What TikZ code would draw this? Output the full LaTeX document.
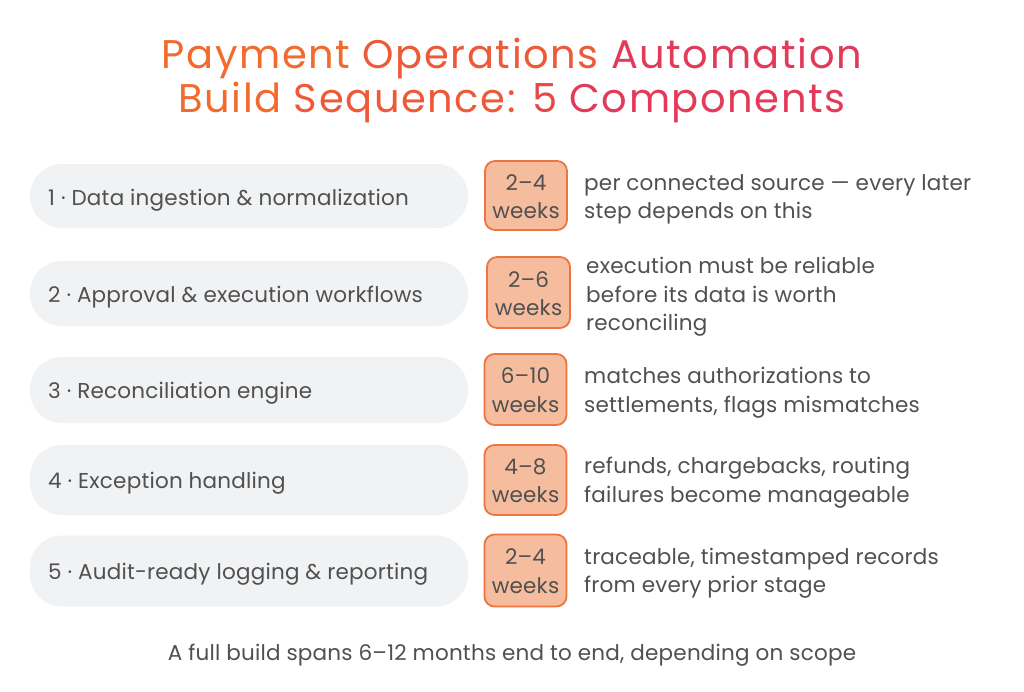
\documentclass[tikz,border=0pt]{standalone}
\usepackage{fontspec}
\setmainfont{Poppins}
\newfontfamily\titlefont[LetterSpace=4]{Poppins}
\newfontfamily\bodyfont[LetterSpace=1]{Poppins}
\definecolor{pillfill}{HTML}{F1F2F4}
\definecolor{txt}{HTML}{505050}
\definecolor{badgefill}{HTML}{F5BD9E}
\definecolor{badgeline}{HTML}{EE7440}
\definecolor{tA}{HTML}{F26A2C}
\definecolor{tB}{HTML}{EE5A38}
\definecolor{tC}{HTML}{E84848}
\definecolor{tD}{HTML}{E23A58}
\begin{document}
\begin{tikzpicture}[x=1pt,y=-1pt,
  pill/.style={fill=pillfill, rounded corners=32pt, minimum width=438pt, inner sep=0pt},
  body/.style={anchor=base west, text=txt, font=\bodyfont\fontsize{21.5}{28}\selectfont, inner sep=0pt},
  badge/.style={fill=badgefill, draw=badgeline, line width=1.8pt, rounded corners=10pt, minimum width=82pt, inner sep=0pt},
  btxt/.style={anchor=base, text=txt, font=\bodyfont\fontsize{21.5}{28}\selectfont, inner sep=0pt},
  ttl/.style={anchor=base, font=\titlefont\fontsize{40}{45}\selectfont, inner sep=0pt}]
\fill[white] (0,0) rectangle (1024,691);
% title
\node[ttl] (t1) at (512,68) {\textcolor{tA}{Payment} \textcolor{tB}{Operations} \textcolor{tD}{Automation}};
\node[ttl] (t2) at (512,112) {\textcolor{tA}{Build} \textcolor{tB}{Sequence:} \textcolor{tC}{5} \textcolor{tD}{Components}};
% row 1
\node[pill, minimum height=64pt] (p1) at (249,196) {};
\node[body] (l1) at (48,205) {1 · Data ingestion \& normalization};
\node[badge, minimum height=69pt] (b1) at (526,195.5) {};
\node[btxt] (b1a) at (b1.center) [yshift=5.5pt] {2–4};
\node[btxt] (b1b) at (b1.center) [yshift=-22.5pt] {weeks};
\node[body] (d1a) at (584,190) {per connected source — every later};
\node[body] (d1b) at (584,218) {step depends on this};
% row 2
\node[pill, minimum height=65pt] (p2) at (249,293.5) {};
\node[body] (l2) at (48,302) {2 · Approval \& execution workflows};
\node[badge, minimum height=71pt, minimum width=83pt] (b2) at (528.5,292.5) {};
\node[btxt] (b2a) at (b2.center) [yshift=5.5pt] {2–6};
\node[btxt] (b2b) at (b2.center) [yshift=-22.5pt] {weeks};
\node[body] (d2a) at (586,273) {execution must be reliable};
\node[body] (d2b) at (586,302) {before its data is worth};
\node[body] (d2c) at (586,330) {reconciling};
% row 3
\node[pill, minimum height=66pt] (p3) at (249,390) {};
\node[body] (l3) at (48,398) {3 · Reconciliation engine};
\node[badge, minimum height=71pt] (b3) at (525.5,389.5) {};
\node[btxt] (b3a) at (b3.center) [yshift=6pt] {6–10};
\node[btxt] (b3b) at (b3.center) [yshift=-22.5pt] {weeks};
\node[body] (d3a) at (584,383) {matches authorizations to};
\node[body] (d3b) at (584,412) {settlements, flags mismatches};
% row 4
\node[pill, minimum height=70pt] (p4) at (249,480) {};
\node[body] (l4) at (48,488) {4 · Exception handling};
\node[badge, minimum height=70pt] (b4) at (525.5,480) {};
\node[btxt] (b4a) at (b4.center) [yshift=6pt] {4–8};
\node[btxt] (b4b) at (b4.center) [yshift=-22.5pt] {weeks};
\node[body] (d4a) at (584,473) {refunds, chargebacks, routing};
\node[body] (d4b) at (584,502) {failures become manageable};
% row 5
\node[pill, minimum height=71pt] (p5) at (249,571) {};
\node[body] (l5) at (48,579) {5 · Audit-ready logging \& reporting};
\node[badge, minimum height=72pt] (b5) at (525.5,570.5) {};
\node[btxt] (b5a) at (b5.center) [yshift=6pt] {2–4};
\node[btxt] (b5b) at (b5.center) [yshift=-22.5pt] {weeks};
\node[body] (d5a) at (584,564) {traceable, timestamped records};
\node[body] (d5b) at (584,592) {from every prior stage};
% footer
\node[btxt] (f) at (512,660) {A full build spans 6–12 months end to end, depending on scope};
\end{tikzpicture}
\end{document}
